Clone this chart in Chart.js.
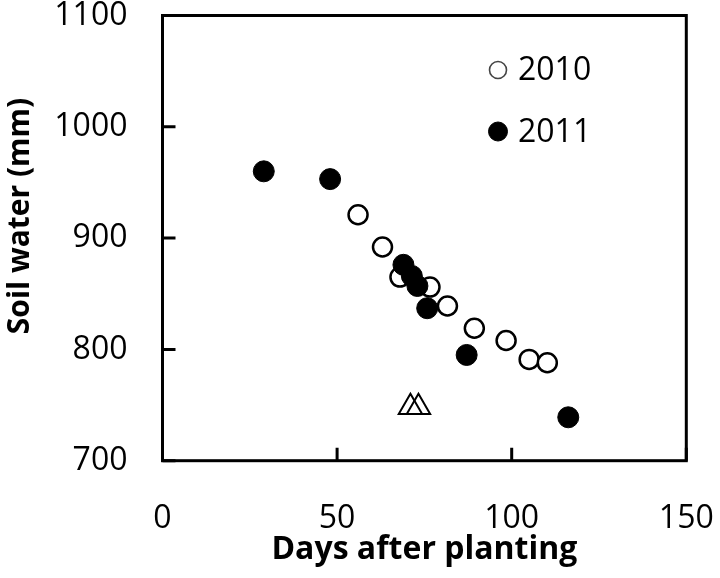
<!DOCTYPE html>
<html><head><meta charset="utf-8">
<script src="https://cdn.jsdelivr.net/npm/chart.js@4"></script>
<style>html,body{margin:0;padding:0;background:#fff;}canvas{display:block;}</style>
</head><body>
<canvas id="c" width="720" height="578"></canvas>
<script>
const days2010 = [56, 63, 68, 76.6, 81.6, 89.3, 98.4, 105, 110.2];
const water2010 = [921, 892, 865, 856, 839, 819, 808, 791, 788];
const days2011 = [29, 48, 69, 71.4, 73, 75.8, 87.1, 116.2];
const water2011 = [960, 953, 876, 866, 857, 837, 795, 739];
const daysMarker = [71, 73.3];
const waterMarker = [748, 748];
const xTicks = [0, 50, 100, 150];
const yTicks = [700, 800, 900, 1000, 1100];
const seriesNames = ['2010', '2011'];
const xTitle = 'Days after planting';
const yTitle = 'Soil water (mm)';

const FONT = "'Open Sans', sans-serif";
const toPts = (xs, ys) => xs.map((x, i) => ({x: x, y: ys[i]}));
const noPad = s => { s.paddingLeft = 0; s.paddingRight = 0; s.paddingTop = 0; s.paddingBottom = 0; };

const framePlugin = {
  id: 'frame',
  beforeDatasetsDraw(chart) {
    const {ctx, chartArea: a, scales} = chart;
    ctx.save();
    ctx.strokeStyle = '#000';
    ctx.lineWidth = 3;
    ctx.strokeRect(a.left, a.top, a.right - a.left, a.bottom - a.top);
    ctx.beginPath();
    xTicks.forEach(v => {
      const px = scales.x.getPixelForValue(v);
      ctx.moveTo(px, a.bottom); ctx.lineTo(px, a.bottom - 13);
    });
    yTicks.forEach(v => {
      const py = scales.y.getPixelForValue(v);
      ctx.moveTo(a.left, py); ctx.lineTo(a.left + 13, py);
    });
    ctx.stroke();
    ctx.restore();
  },
  afterDraw(chart) {
    const {ctx, chartArea: a} = chart;
    ctx.save();
    ctx.translate(20, 216);
    ctx.rotate(-Math.PI / 2);
    ctx.font = "bold 30px " + FONT;
    ctx.fillStyle = '#000';
    ctx.textAlign = 'center';
    ctx.textBaseline = 'middle';
    ctx.fillText(yTitle, 0, 0);
    ctx.restore();
    const ds = chart.data.datasets;
    const lx = a.left + 335.5;
    const rows = [a.top + 54.5, a.top + 116];
    ctx.save();
    ctx.font = "32px " + FONT;
    ctx.textBaseline = 'middle';
    ctx.textAlign = 'left';
    [0, 1].forEach(i => {
      const y = rows[i];
      ctx.beginPath();
      ctx.arc(lx, y, i === 0 ? 8.5 : 9.5, 0, Math.PI * 2);
      ctx.fillStyle = ds[i].backgroundColor;
      ctx.fill();
      ctx.lineWidth = i === 0 ? 1.6 : 1;
      ctx.strokeStyle = i === 0 ? '#444' : '#000';
      ctx.stroke();
      ctx.fillStyle = '#000';
      ctx.fillText(ds[i].label, lx + 20, y + 1);
    });
    ctx.restore();
  }
};

new Chart(document.getElementById('c'), {
  type: 'scatter',
  data: {
    datasets: [
      {label: seriesNames[0], data: toPts(days2010, water2010), order: 3,
       backgroundColor: '#ffffff', borderColor: '#000000', borderWidth: 2.5,
       pointRadius: 9.5, pointHoverRadius: 9.5},
      {label: seriesNames[1], data: toPts(days2011, water2011), order: 1,
       backgroundColor: '#000000', borderColor: '#000000', borderWidth: 1,
       pointRadius: 10.5, pointHoverRadius: 10.5},
      {label: 'marker', data: toPts(daysMarker, waterMarker), order: 2,
       pointStyle: 'triangle', backgroundColor: 'rgba(255,255,255,0)', borderColor: '#000000',
       borderWidth: 2, pointRadius: 13.5, pointHoverRadius: 13.5}
    ]
  },
  options: {
    responsive: false,
    animation: false,
    devicePixelRatio: 1,
    layout: {padding: {left: 0, right: 33.7, top: 14, bottom: 0}},
    plugins: {legend: {display: false}, tooltip: {enabled: false}},
    scales: {
      x: {
        type: 'linear', min: 0, max: 150,
        afterBuildTicks: s => { s.ticks = xTicks.map(v => ({value: v})); },
        afterFit: s => { s.height = 117.3; noPad(s); },
        grid: {display: false, drawTicks: false},
        border: {display: false},
        ticks: {color: '#000', font: {family: FONT, size: 32}, padding: 39, maxRotation: 0,
                callback: v => String(v)},
        title: {display: true, text: xTitle, color: '#000',
                font: {family: FONT, size: 32, weight: 'bold'}, padding: {top: 0, bottom: 9}}
      },
      y: {
        type: 'linear', min: 700, max: 1100,
        afterBuildTicks: s => { s.ticks = yTicks.map(v => ({value: v})); },
        afterFit: s => { s.width = 162.5; noPad(s); },
        grid: {display: false, drawTicks: false},
        border: {display: false},
        ticks: {color: '#000', font: {family: FONT, size: 32}, padding: 35,
                callback: v => String(v)}
      }
    }
  },
  plugins: [framePlugin]
});
</script>
</body></html>
